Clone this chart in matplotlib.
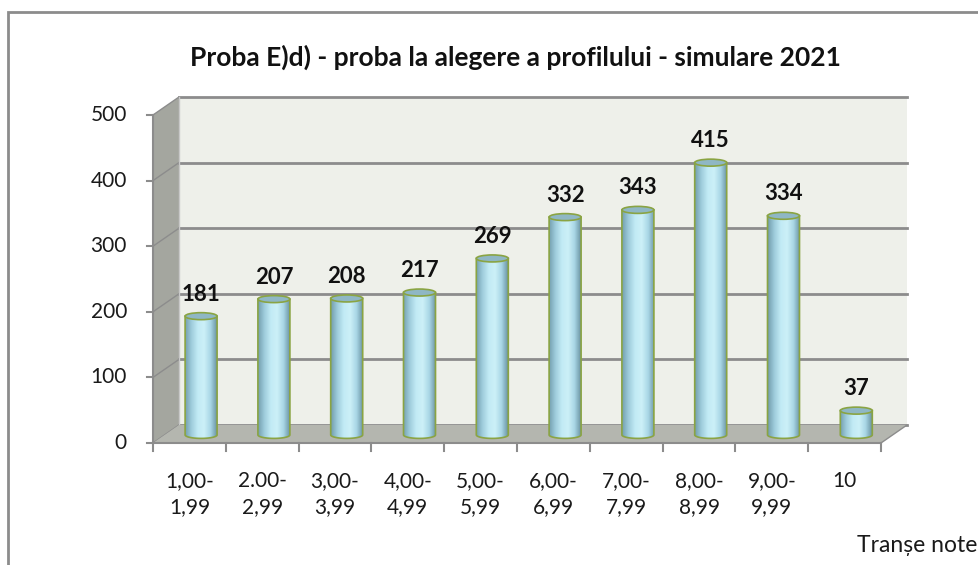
import numpy as np
import matplotlib.pyplot as plt
from matplotlib.patches import Polygon, Ellipse, PathPatch, Rectangle
from matplotlib.path import Path

# data
categories = ["1,00-\n1,99", "2.00-\n2,99", "3,00-\n3,99", "4,00-\n4,99", "5,00-\n5,99",
              "6,00-\n6,99", "7,00-\n7,99", "8,00-\n8,99", "9,00-\n9,99", "10"]
values = [181, 207, 208, 217, 269, 332, 343, 415, 334, 37]
yticks = [0, 100, 200, 300, 400, 500]
title = "Proba E)d) - proba la alegere a profilului - simulare 2021"
xlabel = "Tranșe note"

plt.rcParams['font.family'] = ['Lato', 'DejaVu Sans']

W, H = 979, 565
fig = plt.figure(figsize=(W / 100, H / 100), dpi=100)

# front plane of the 3d box, in pixels
left, right, bottom, top = 153, 881, 443, 115
ax = fig.add_axes([left / W, 1 - bottom / H, (right - left) / W, (bottom - top) / H])
ax.set_xlim(-0.5, 9.5)
ax.set_ylim(0, 500)
for s in ax.spines.values():
    s.set_visible(False)
ax.set_xticks([])
ax.set_yticks([])

# depth offset (data units): 26px right, 18px up
px_x = (right - left) / 10.0
px_y = (bottom - top) / 500.0
DX, DY = 26 / px_x, 18 / px_y
x0, x1 = -0.5, 9.5

grid_c = '#8c8c8c'
kw = dict(clip_on=False)

# back wall
ax.add_patch(Polygon([(x0 + DX, DY), (x1 + DX, DY), (x1 + DX, 500 + DY), (x0 + DX, 500 + DY)],
                     closed=True, fc='#eef0ea', ec='none', zorder=0, **kw))
# side wall
ax.add_patch(Polygon([(x0, 0), (x0 + DX, DY), (x0 + DX, 500 + DY), (x0, 500)],
                     closed=True, fc='#a4a69f', ec='none', zorder=0, **kw))
# floor
ax.add_patch(Polygon([(x0, 0), (x1, 0), (x1 + DX, DY), (x0 + DX, DY)],
                     closed=True, fc='#b4b6af', ec='none', zorder=0.5, **kw))

# gridlines on back wall and side wall
for v in yticks:
    ax.plot([x0 + DX, x1 + DX], [v + DY, v + DY], color=grid_c, lw=2, zorder=0.3, **kw)
    ax.plot([x0, x0 + DX], [v, v + DY], color=grid_c, lw=1, zorder=0.3, **kw)
ax.plot([x0 + DX, x0 + DX], [DY, 500 + DY], color='#c8c8c8', lw=1, zorder=0.3, **kw)
# floor edges
ax.plot([x1, x1 + DX], [0, DY], color=grid_c, lw=1, zorder=0.6, **kw)

# front axes lines and ticks
ax.plot([x0, x0], [0, 500], color=grid_c, lw=1.5, zorder=3, **kw)
ax.plot([x0, x1], [0, 0], color=grid_c, lw=1.5, zorder=3, **kw)
tx = 6 / px_x
ty = 8 / px_y
for v in yticks:
    ax.plot([x0 - tx, x0], [v, v], color=grid_c, lw=1.5, zorder=3, **kw)
    ax.text(x0 - 26 / px_x, v, str(v), ha='right', va='center', fontsize=15, color='#1a1a1a')
for i in range(11):
    ax.plot([x0 + i, x0 + i], [0, -ty], color=grid_c, lw=1.5, zorder=3, **kw)
for i, lab in enumerate(categories):
    ax.text(i, -28 / px_y, lab, ha='center', va='top', fontsize=15, color='#1a1a1a',
            linespacing=1.4)

# cylinders, at mid depth
cdx, cdy = DX * 0.45, DY * 0.45
bw = 32 / px_x
eh = 7 / px_y
grad = np.linspace(0, 1, 200)
cols = np.array([[0.45, 0.62, 0.68], [0.62, 0.80, 0.86], [0.76, 0.92, 0.96],
                 [0.80, 0.94, 0.97], [0.66, 0.84, 0.90], [0.42, 0.58, 0.64]])
pos = np.linspace(0, 1, len(cols))
img = np.stack([np.interp(grad, pos, cols[:, k]) for k in range(3)], axis=-1)[None, :, :]

for i, v in enumerate(values):
    cx = i + cdx
    yb = cdy
    yt = v + cdy
    t = np.linspace(np.pi, 2 * np.pi, 40)
    arc = np.column_stack([cx + bw / 2 * np.cos(t), yb + eh / 2 * np.sin(t)])
    verts = np.vstack([[cx - bw / 2, yt], arc, [cx + bw / 2, yt], [cx - bw / 2, yt]])
    body = PathPatch(Path(verts, closed=True), fc='none', ec='#8aa443', lw=1.2, zorder=2, **kw)
    ax.add_patch(body)
    im = ax.imshow(img, extent=[cx - bw / 2, cx + bw / 2, yb - eh, yt], aspect='auto',
                   zorder=1.9, interpolation='bilinear')
    im.set_clip_path(body)
    ax.add_patch(Ellipse((cx, yt), bw, eh, fc='#8fb7c4', ec='#8aa443', lw=1.2, zorder=2.1, **kw))
    ax.annotate(str(v), (cx, yt), xytext=(0, 22), textcoords='offset pixels', ha='center',
                va='center', fontsize=16, fontweight='bold', color='#111111')

ax.set_xlim(-0.5, 9.5)
ax.set_ylim(0, 500)

# title, axis label, frame
fig.text(515 / W, 1 - 57 / H, title, ha='center', va='center', fontsize=19,
         fontweight='bold', color='#111111')
fig.text(977 / W, 1 - 545 / H, xlabel, ha='right', va='center', fontsize=16.5, color='#1a1a1a')
fig.patches.append(Rectangle((8 / W, -0.05), 1.1, 1 - 12 / H + 0.05, transform=fig.transFigure,
                             fill=False, ec='#8c8c8c', lw=2, clip_on=False))

fig.savefig('out.png', dpi=100)
